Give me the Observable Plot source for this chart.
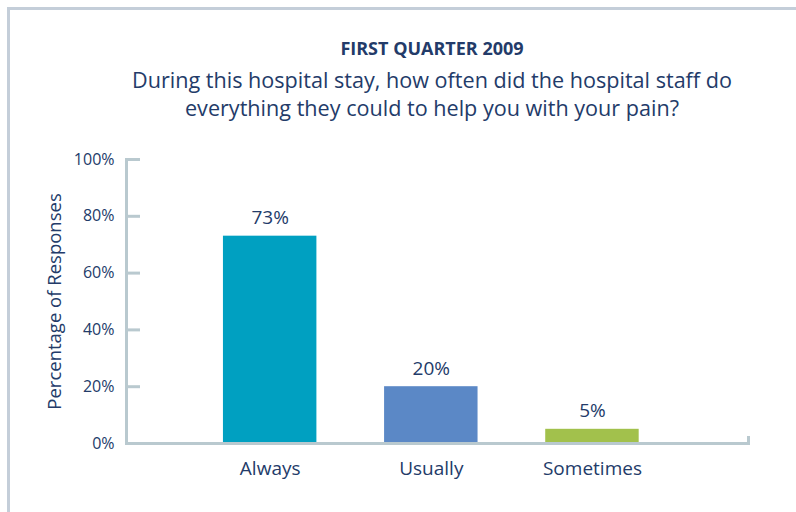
<!DOCTYPE html>
<html>
<head>
<meta charset="utf-8">
<script src="https://cdn.jsdelivr.net/npm/d3@7"></script>
<script src="https://cdn.jsdelivr.net/npm/@observablehq/plot@0.6"></script>
<style>
  html, body { margin: 0; padding: 0; background: #fff; }
  body { width: 796px; height: 512px; position: relative; overflow: hidden; font-family: "Open Sans", Lato, sans-serif; color: #233b69; }
  #frame { position: absolute; left: 7px; top: 7px; width: 800px; height: 520px; border-top: 3px solid #c4ced9; border-left: 3px solid #c4ced9; }
  #kicker { position: absolute; left: 0; width: 864px; top: 37px; text-align: center; font-weight: bold; font-size: 18px; line-height: 22px; }
  #title { position: absolute; left: 0; width: 864px; top: 66px; text-align: center; font-size: 21.6px; line-height: 28px; }
  #chart { position: absolute; left: 0; top: 140px; }
</style>
</head>
<body>
<div id="frame"></div>
<div id="kicker">FIRST QUARTER 2009</div>
<div id="title">During this hospital stay, how often did the hospital staff do<br>everything they could to help you with your pain?</div>
<div id="chart"></div>
<script>
const categories = ["Always", "Usually", "Sometimes"];
const values = [73, 20, 5];
const colors = ["#00a0c1", "#5b88c6", "#a2c14c"];
const yTicks = [0, 20, 40, 60, 80, 100];
const yLabel = "Percentage of Responses";

const data = categories.map((c, i) => ({category: c, value: values[i], color: colors[i]}));
const axisColor = "#b9c9cf";
const textColor = "#233b69";
const W = 796, H = 372, mT = 19, mB = 69;

const chart = Plot.plot({
  width: W,
  height: H,
  marginLeft: 126,
  marginRight: 48,
  marginTop: mT,
  marginBottom: mB,
  style: {fontFamily: "'Open Sans', Lato, sans-serif", fontSize: "16px", color: textColor, background: "transparent"},
  x: {domain: categories, paddingInner: 0.42, paddingOuter: 0.64, align: 0.47, round: false, label: null},
  y: {domain: [0, 100], label: null},
  marks: [
    Plot.barY(data, {x: "category", y: "value", fill: "color"}),
    Plot.text(data, {x: "category", y: "value", text: d => d.value + "%", lineAnchor: "bottom", dy: -12, fill: textColor, fontSize: 19}),
    Plot.frame({anchor: "left", stroke: axisColor, strokeWidth: 3}),
    Plot.frame({anchor: "bottom", stroke: axisColor, strokeWidth: 3}),
    Plot.frame({anchor: "right", stroke: axisColor, strokeWidth: 3, insetTop: H - mT - mB - 6}),
    Plot.axisY(yTicks, {
      anchor: "left",
      tickSize: -14,
      tickPadding: 26,
      stroke: axisColor,
      strokeWidth: 3,
      tickFormat: d => d + "%",
      fill: textColor,
      fontSize: 16,
      label: null
    }),
    Plot.text([yLabel], {frameAnchor: "left", rotate: -90, dx: -71, lineAnchor: "middle", textAnchor: "middle", fill: textColor, fontSize: 18.5}),
    Plot.axisX({anchor: "bottom", tickSize: 0, tickPadding: 18, fill: textColor, fontSize: 19, label: null})
  ]
});
document.getElementById("chart").appendChild(chart);
</script>
</body>
</html>
